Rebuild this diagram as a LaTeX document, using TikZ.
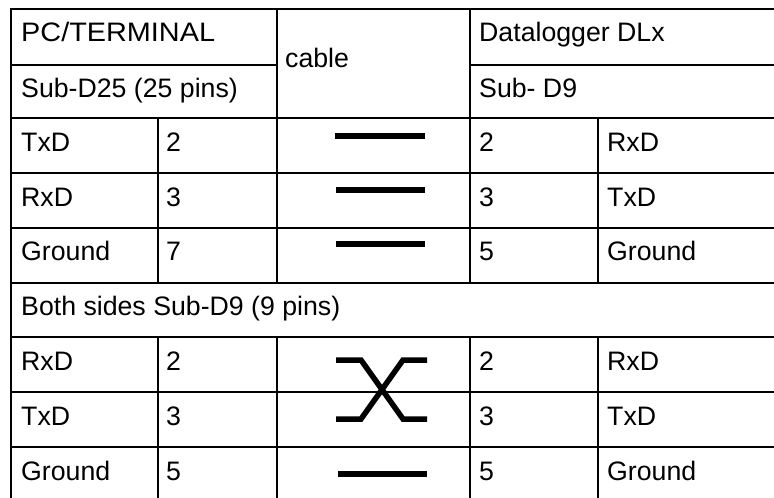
\documentclass[tikz,border=0pt]{standalone}
\usepackage{fontspec}
\setmainfont{Liberation Sans}
\begin{document}
\begin{tikzpicture}[x=1pt,y=-1pt,
  grid/.style={line width=2pt,black},
  wire/.style={line width=5.5pt,black,line cap=butt,line join=miter},
  txt/.style={anchor=base west,inner sep=0pt,font=\fontsize{26.7}{32}\selectfont}]
\useasboundingbox (0,0) rectangle (774,498);
% horizontal grid lines
\draw[grid] (10,9) -- (774,9);
\draw[grid] (11,65) -- (277,65);
\draw[grid] (470,65) -- (774,65);
\foreach \y in {118,173,228,283,337,392,447}
  \draw[grid] (11,\y) -- (774,\y);
% vertical grid lines
\draw[grid] (11,8) -- (11,498);
\draw[grid] (277,8) -- (277,283) (277,337) -- (277,498);
\draw[grid] (470,8) -- (470,283) (470,337) -- (470,498);
\draw[grid] (158,118) -- (158,283) (158,337) -- (158,498);
\draw[grid] (598,118) -- (598,283) (598,337) -- (598,498);
% header texts
\node[txt] (pc) at (21,41) {\scalebox{1.08}[1]{PC/TERMINAL}};
\node[txt] (sub25) at (21,97) {Sub-D25 (25 pins)};
\node[txt] (cable) at (285,67) {cable};
\node[txt] (dl) at (479,41) {Datalogger DLx};
\node[txt] (sub9) at (479,97) {Sub- D9};
% first block
\node[txt] (l1) at (21,151) {TxD};
\node[txt] (n1) at (166,151) {2};
\node[txt] (m1) at (479,151) {2};
\node[txt] (r1) at (607,151) {RxD};
\node[txt] (l2) at (21,206) {RxD};
\node[txt] (n2) at (166,206) {3};
\node[txt] (m2) at (479,206) {3};
\node[txt] (r2) at (607,206) {TxD};
\node[txt] (l3) at (21,260) {Ground};
\node[txt] (n3) at (166,260) {7};
\node[txt] (m3) at (479,260) {5};
\node[txt] (r3) at (607,260) {Ground};
% second block
\node[txt] (both) at (21,315) {Both sides Sub-D9 (9 pins)};
\node[txt] (l4) at (21,370) {RxD};
\node[txt] (n4) at (166,370) {2};
\node[txt] (m4) at (479,370) {2};
\node[txt] (r4) at (607,370) {RxD};
\node[txt] (l5) at (21,425) {TxD};
\node[txt] (n5) at (166,425) {3};
\node[txt] (m5) at (479,425) {3};
\node[txt] (r5) at (607,425) {TxD};
\node[txt] (l6) at (21,480) {Ground};
\node[txt] (n6) at (166,480) {5};
\node[txt] (m6) at (479,480) {5};
\node[txt] (r6) at (607,480) {Ground};
% cable wires
\coordinate (a1) at (335,136); \coordinate (b1) at (425,136);
\coordinate (a2) at (336,190); \coordinate (b2) at (425,190);
\coordinate (a3) at (336,244); \coordinate (b3) at (425,244);
\coordinate (a6) at (338,474); \coordinate (b6) at (427,474);
\draw[wire] (a1) -- (b1);
\draw[wire] (a2) -- (b2);
\draw[wire] (a3) -- (b3);
\draw[wire] (a6) -- (b6);
% crossed wires
\coordinate (xa) at (336,360); \coordinate (xb) at (361,360);
\coordinate (xc) at (403,419); \coordinate (xd) at (427,419);
\coordinate (ya) at (336,419); \coordinate (yb) at (361,419);
\coordinate (yc) at (403,360); \coordinate (yd) at (427,360);
\draw[wire] (xa) -- (xb) -- (xc) -- (xd);
\draw[wire] (ya) -- (yb) -- (yc) -- (yd);
\end{tikzpicture}
\end{document}
